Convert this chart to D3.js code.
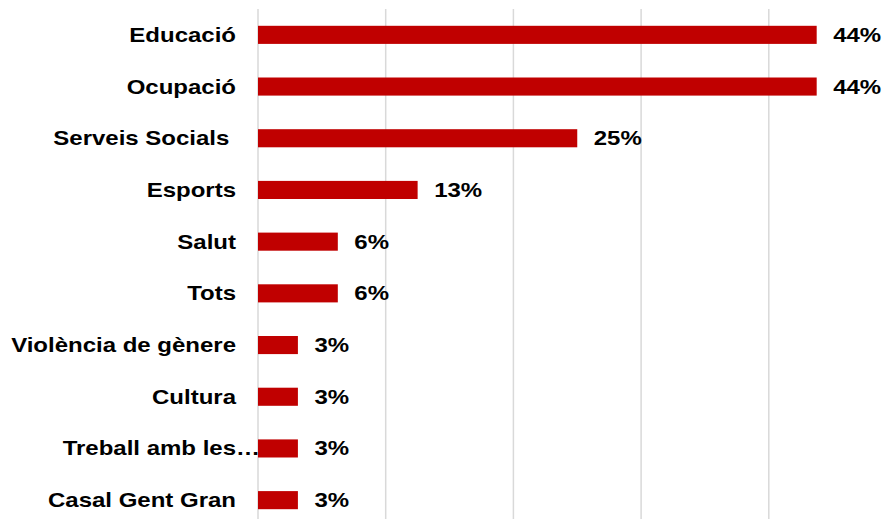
<!DOCTYPE html>
<html>
<head>
<meta charset="utf-8">
<script src="https://cdn.jsdelivr.net/npm/d3@7"></script>
<style>
    body { margin: 0; background: #fff; }
    text { font-family: "Liberation Sans", Arial, sans-serif; font-weight: bold; fill: #000; }
</style>
</head>
<body>
<div id="chart"></div>
<script>
// categories, top to bottom
const categories = ['Educació', 'Ocupació', 'Serveis Socials ', 'Esports', 'Salut', 'Tots',
    'Violència de gènere', 'Cultura', 'Treball amb les…', 'Casal Gent Gran'];
// share of answers
const values = [0.4375, 0.4375, 0.25, 0.125, 0.0625, 0.0625, 0.03125, 0.03125, 0.03125, 0.03125];
const valueLabels = ['44%', '44%', '25%', '13%', '6%', '6%', '3%', '3%', '3%', '3%'];
const gridTicks = [0, 0.1, 0.2, 0.3, 0.4, 0.5];

const width = 885, height = 519;
const fontSize = 20, stretch = 1.2; // the reference text is a bit wide

const svg = d3.select('#chart').append('svg')
    .attr('width', width)
    .attr('height', height);

const x = d3.scaleLinear().domain([0, 0.5]).range([258, 896.5]);
const y = d3.scaleBand().domain(categories).range([9, 526]).paddingInner(0.65).paddingOuter(0.325);
const yMid = c => y(c) + y.bandwidth() / 2;

// gridlines
svg.append('g').selectAll('line')
    .data(gridTicks)
    .enter().append('line')
    .attr('x1', d => x(d)).attr('x2', d => x(d))
    .attr('y1', 9).attr('y2', height)
    .attr('stroke', '#d9d9d9')
    .attr('stroke-width', 1.5);

// bars
svg.append('g').selectAll('rect')
    .data(values)
    .enter().append('rect')
    .attr('x', x(0))
    .attr('y', (d, i) => y(categories[i]))
    .attr('width', d => x(d) - x(0))
    .attr('height', y.bandwidth())
    .attr('fill', '#c00000');

// category labels
svg.append('g').selectAll('text')
    .data(categories)
    .enter().append('text')
    .attr('transform', d => 'translate(' + (d.endsWith('…') ? 260 : 236) + ',' + yMid(d) + ') scale(' + stretch + ',1)')
    .attr('dy', '0.35em')
    .attr('text-anchor', 'end')
    .attr('font-size', fontSize + 'px')
    .style('white-space', 'pre')
    .text(d => d);

// value labels
svg.append('g').selectAll('text')
    .data(values)
    .enter().append('text')
    .attr('transform', (d, i) => 'translate(' + (x(d) + 16.5) + ',' + yMid(categories[i]) + ') scale(' + stretch + ',1)')
    .attr('dy', '0.35em')
    .attr('font-size', fontSize + 'px')
    .text((d, i) => valueLabels[i]);
</script>
</body>
</html>
